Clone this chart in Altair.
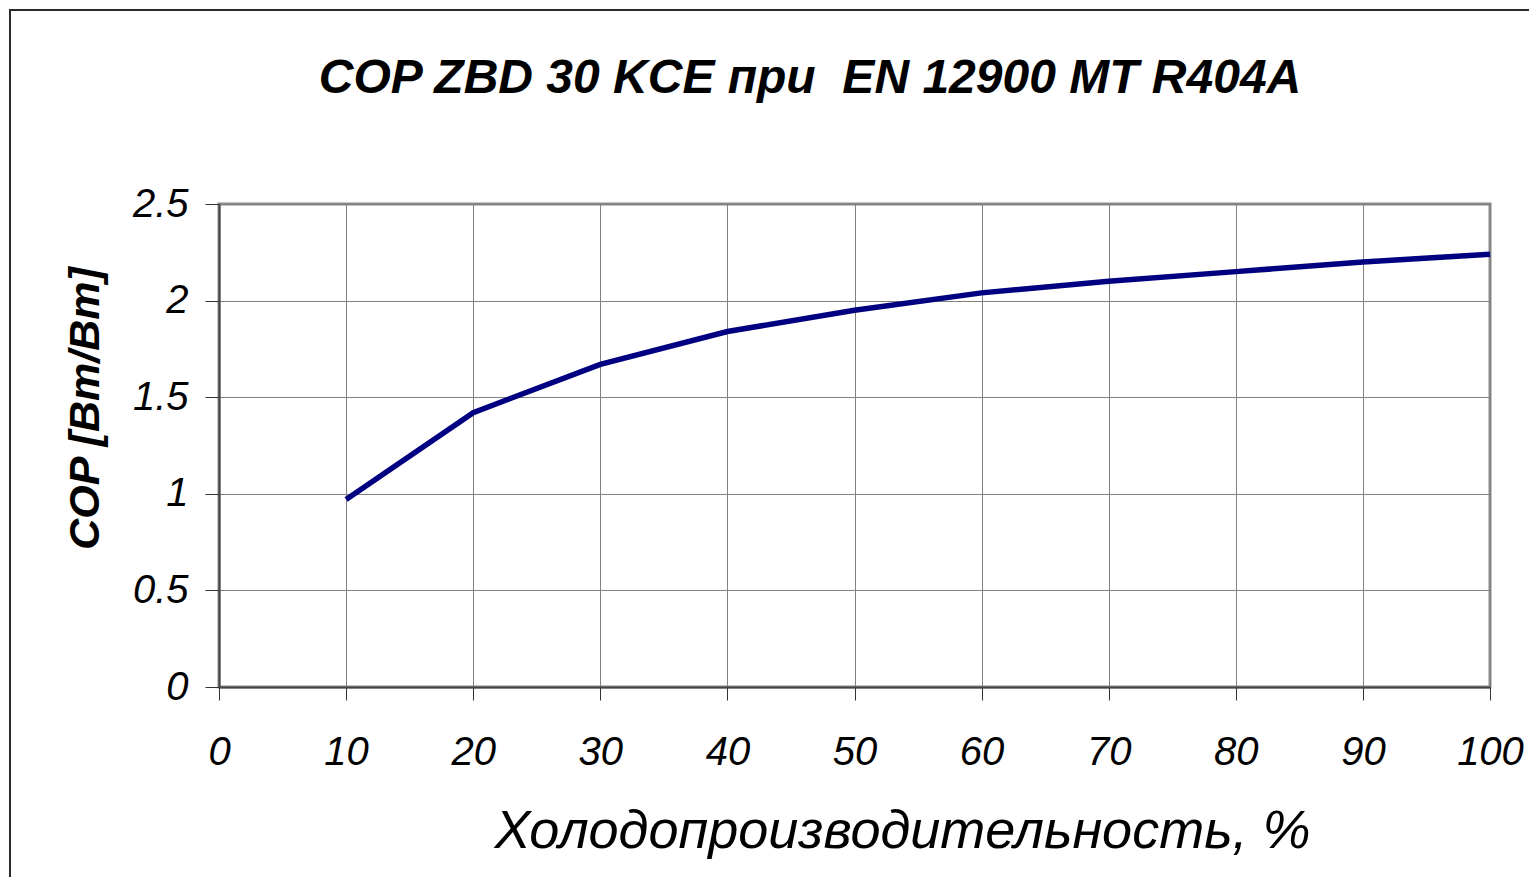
import altair as alt
import pandas as pd

# Data
capacity = [10, 20, 30, 40, 50, 60, 70, 80, 90, 100]
cop = [0.97, 1.42, 1.67, 1.84, 1.95, 2.04, 2.10, 2.15, 2.20, 2.24]

x_ticks = [0, 10, 20, 30, 40, 50, 60, 70, 80, 90, 100]
y_ticks = [0, 0.5, 1, 1.5, 2, 2.5]

title_text = "COP ZBD 30 KCE при\u00a0 EN 12900 MT R404A"
x_title = "Холодопроизводительность, %"
y_title = "COP [Вт/Вт]"

df = pd.DataFrame({"capacity": capacity, "cop": cop})

FONT = "Liberation Sans"

x_axis = alt.Axis(
    values=x_ticks, format="d", title=x_title,
    titleFont=FONT, titleFontSize=54, titleFontStyle="italic", titleFontWeight="normal",
    titleColor="#000000", titleX=683, titleY=160, titleBaseline="alphabetic", titleAlign="center",
    labelFont=FONT, labelFontSize=40, labelFontStyle="italic", labelColor="#000000",
    labelPadding=32, labelFlush=False, labelOverlap=False, labelBound=False,
    tickSize=13, tickColor="#333333", tickWidth=1,
    domainColor="#444444", domainWidth=2,
    grid=True, gridColor="#808080", gridWidth=1,
)

y_axis = alt.Axis(
    values=y_ticks, format="~g", title=y_title,
    titleFont=FONT, titleFontSize=43, titleFontStyle="italic", titleFontWeight="bold",
    titleColor="#000000", titleX=-134, titleY=204, titleAngle=270,
    titleBaseline="middle", titleAlign="center",
    labelFont=FONT, labelFontSize=40, labelFontStyle="italic", labelColor="#000000",
    labelPadding=17, labelFlush=False, labelOverlap=False, labelBound=False,
    tickSize=14, tickColor="#333333", tickWidth=1,
    domainColor="#444444", domainWidth=2,
    grid=True, gridColor="#808080", gridWidth=1,
)

line = alt.Chart(df).mark_line(color="#000080", strokeWidth=5.5).encode(
    x=alt.X("capacity:Q", scale=alt.Scale(domain=[0, 100], nice=False), axis=x_axis),
    y=alt.Y("cop:Q", scale=alt.Scale(domain=[0, 2.5], nice=False), axis=y_axis),
)

one = alt.Data(values=[{}])

frame = alt.Chart(one).mark_rect(
    fillOpacity=0, stroke="#2b2b2b", strokeWidth=2
).encode(
    x=alt.value(-209), y=alt.value(-194), x2=alt.value(2000), y2=alt.value(2000)
)

title = alt.Chart(one).mark_text(
    text=title_text, font=FONT, fontSize=48, fontWeight="bold", fontStyle="italic",
    color="#000000", align="center", baseline="alphabetic"
).encode(x=alt.value(591), y=alt.value(-111))

chart = alt.layer(frame, line, title).properties(
    width=1271, height=483,
    autosize=alt.AutoSizeParams(type="none"),
    padding={"left": 211, "top": 196, "right": 39, "bottom": 190},
    background="#ffffff",
).configure_view(
    stroke="#8c8c8c", strokeWidth=3
)

chart.save("out.html", embed_options={"renderer": "svg", "actions": False})
